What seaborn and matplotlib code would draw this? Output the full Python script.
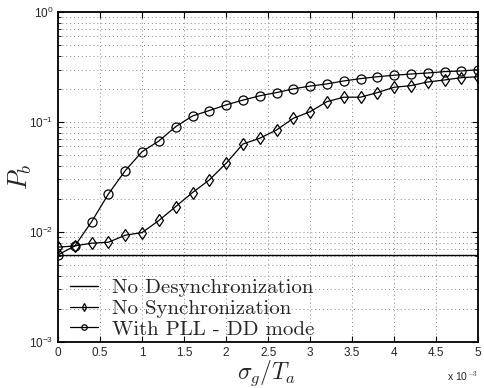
import numpy as np
import pandas as pd
import matplotlib
matplotlib.use("Agg")
import matplotlib.pyplot as plt
import matplotlib.ticker as mticker
import seaborn as sns

# ---- data (x in units of 1e-3) ----
x_vals = [0.0, 0.2, 0.4, 0.6, 0.8, 1.0, 1.2, 1.4, 1.6, 1.8, 2.0, 2.2, 2.4,
          2.6, 2.8, 3.0, 3.2, 3.4, 3.6, 3.8, 4.0, 4.2, 4.4, 4.6, 4.8, 5.0]
no_desync = [0.0062] * len(x_vals)
no_sync = [0.00726, 0.00746, 0.00789, 0.00806, 0.00933, 0.00986, 0.0127, 0.017,
           0.0228, 0.0297, 0.0421, 0.063, 0.0711, 0.0845, 0.108, 0.124, 0.153,
           0.168, 0.168, 0.185, 0.207, 0.214, 0.231, 0.241, 0.253, 0.258]
pll_dd = [0.00618, 0.00746, 0.0124, 0.0222, 0.0361, 0.0537, 0.0672, 0.0906,
          0.1134, 0.127, 0.143, 0.158, 0.173, 0.185, 0.2, 0.212, 0.222, 0.236,
          0.248, 0.258, 0.266, 0.273, 0.279, 0.287, 0.291, 0.299]
labels = ["No Desynchronization", "No Synchronization", "With PLL - DD mode"]
x_ticks = [0, 0.5, 1, 1.5, 2, 2.5, 3, 3.5, 4, 4.5, 5]
x_tick_labels = ["0", "0.5", "1", "1.5", "2", "2.5", "3", "3.5", "4", "4.5", "5"]

sns.set_style("ticks")
plt.rcParams["font.family"] = ["Liberation Sans", "DejaVu Sans"]
plt.rcParams["mathtext.fontset"] = "cm"

fig = plt.figure(figsize=(4.84, 3.88), dpi=100)
ax = fig.add_axes([0.12, 0.119, 0.868, 0.850])

df = pd.DataFrame({"x": x_vals, "a": no_desync, "b": no_sync, "c": pll_dd})

sns.lineplot(data=df, x="x", y="a", ax=ax, color="black", lw=1.0, label=labels[0])
sns.lineplot(data=df, x="x", y="b", ax=ax, color="black", lw=0.9, marker="d",
             markersize=6.5, markerfacecolor="none", markeredgecolor="black",
             markeredgewidth=0.9, label=labels[1])
sns.lineplot(data=df, x="x", y="c", ax=ax, color="black", lw=0.9, marker="o",
             markersize=6.5, markerfacecolor="none", markeredgecolor="black",
             markeredgewidth=0.9, label=labels[2])

ax.set_yscale("log")
ax.set_ylim(1e-3, 1)
ax.set_xlim(0, 5)
ax.set_xticks(x_ticks)
ax.set_xticklabels(x_tick_labels)
ax.yaxis.set_major_locator(mticker.LogLocator(base=10, numticks=10))
ax.yaxis.set_minor_locator(mticker.LogLocator(base=10, subs=np.arange(2, 10), numticks=20))
ax.yaxis.set_minor_formatter(mticker.NullFormatter())
ax.yaxis.set_major_formatter(mticker.FuncFormatter(
    lambda v, p: r"$\mathregular{10^{%d}}$" % int(round(np.log10(v)))))

ax.grid(True, which="major", axis="both", ls=(0, (1, 3)), color="#888888", lw=0.7)
ax.grid(True, which="minor", axis="y", ls=(0, (1, 3)), color="#888888", lw=0.7)
ax.tick_params(which="both", direction="in", top=True, right=True, labelsize=8.5,
               color="black")
ax.tick_params(which="major", length=4)
ax.tick_params(which="minor", length=2)
for s in ax.spines.values():
    s.set_linewidth(1.3)
    s.set_color("black")

ax.set_xlabel(r"$\sigma_g/T_a$", fontsize=17)
ax.xaxis.set_label_coords(0.495, -0.05)
ax.set_ylabel(r"$P_b$", fontsize=19)
ax.yaxis.set_label_coords(-0.057, 0.5)
ax.text(1.0, -0.085, r"x 10$^{-3}$", transform=ax.transAxes, ha="right",
        va="top", fontsize=7.5)

leg = ax.legend(loc="lower left", bbox_to_anchor=(0.022, 0.0), frameon=False,
                prop={"family": "cmr10", "size": 15}, handlelength=1.3,
                handletextpad=0.7, labelspacing=0.1, borderaxespad=0.0,
                borderpad=0.15, markerscale=0.6)

fig.savefig("out.png", dpi=100)
